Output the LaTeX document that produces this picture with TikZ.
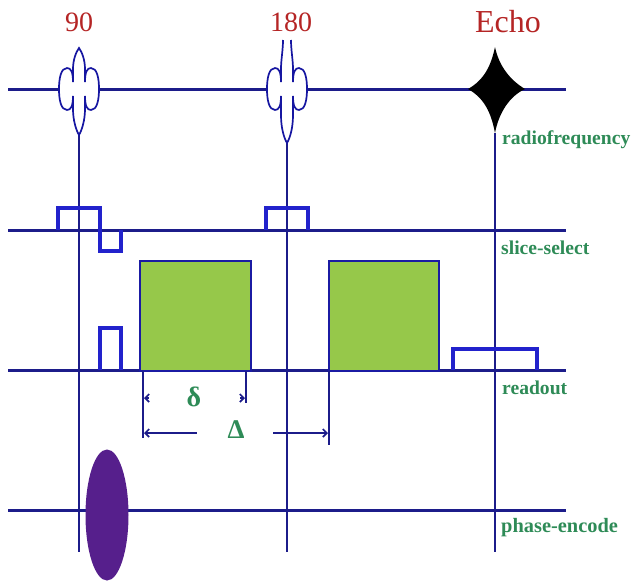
\documentclass[tikz,border=0pt]{standalone}
\usepackage{fontspec}
\setmainfont{Liberation Serif}
\usetikzlibrary{arrows.meta,calc,positioning}
\definecolor{linenavy}{HTML}{1C1C8A}
\definecolor{pulseblue}{HTML}{2222CC}
\definecolor{gradgreen}{HTML}{96C84A}
\definecolor{encpurple}{HTML}{561F8C}
\definecolor{labelgreen}{HTML}{2E8B57}
\definecolor{titlered}{HTML}{B52525}
\tikzset{
    axisline/.style={linenavy, line width=3pt},
    guideline/.style={linenavy, line width=1.7pt},
    lobeline/.style={linenavy!80!blue, line width=1.7pt, fill=white},
    gatebox/.style={pulseblue, line width=3.2pt},
    gradbox/.style={fill=gradgreen, draw=pulseblue!80!black, line width=1.2pt},
    timemark/.style={linenavy, line width=1.7pt},
    timetip/.tip={Straight Barb[length=4pt,width=8pt]},
    titletext/.style={text=titlered},
    axistext/.style={text=labelgreen, font=\fontsize{19.6}{20}\selectfont\bfseries, anchor=west, inner sep=0pt},
}
\begin{document}
\begin{tikzpicture}[x=1pt, y=-1pt]
    \useasboundingbox (0,0) rectangle (633,582);

    % Time axes
    \foreach \y/\xend in {89/566, 230/566, 370/566, 510/566}
        \draw[axisline] (8,\y) -- (\xend,\y);

    % Guide lines
    \draw[guideline] (79,135) -- (79,552);
    \draw[guideline] (287,143) -- (287,552);
    \draw[guideline] (495,133) -- (495,552);

    % RF pulses
    \draw[lobeline] (79,48) .. controls (76,52) and (73,60) .. (73,69) -- (73,82)
        .. controls (73,72) and (71,68) .. (67,68) .. controls (61,68) and (59,78) .. (59,89)
        .. controls (59,100) and (61,110) .. (67,110) .. controls (71,110) and (73,106) .. (73,96)
        -- (73,109) .. controls (73,120) and (76,130) .. (79,135)
        .. controls (82,130) and (85,120) .. (85,109) -- (85,96)
        .. controls (85,106) and (87,110) .. (91,110) .. controls (97,110) and (99,100) .. (99,89)
        .. controls (99,78) and (97,68) .. (91,68) .. controls (87,68) and (85,72) .. (85,82)
        -- (85,69) .. controls (85,60) and (82,52) .. (79,48) -- cycle;
    \fill[white] (283,40) -- (291,40) -- (293,82) -- (293,96) -- (281,96) -- (281,82) -- cycle;
    \draw[lobeline] (283,40) .. controls (283,50) and (281,60) .. (281,69) -- (281,82)
        .. controls (281,72) and (279,68) .. (275,68) .. controls (269,68) and (267,78) .. (267,89)
        .. controls (267,100) and (269,110) .. (275,110) .. controls (279,110) and (281,106) .. (281,96)
        -- (281,115) .. controls (281,128) and (284,138) .. (287,143)
        .. controls (290,138) and (293,128) .. (293,115) -- (293,96)
        .. controls (293,106) and (295,110) .. (299,110) .. controls (305,110) and (307,100) .. (307,89)
        .. controls (307,78) and (305,68) .. (299,68) .. controls (295,68) and (293,72) .. (293,82)
        -- (293,69) .. controls (293,60) and (291,50) .. (291,40);

    % Echo
    \fill[black] (495,47) .. controls (499,66) and (510,80) .. (525,89)
        .. controls (510,96) and (499,112) .. (495,133)
        .. controls (491,112) and (484,98) .. (468,89)
        .. controls (484,80) and (491,66) .. cycle;

    % Slice-select gates
    \draw[gatebox] (58,230) |- (100,208) |- (121,251) -- (121,230);
    \draw[gatebox] (266,230) |- (308,208) -- (308,230);

    % Readout gates
    \draw[gatebox] (100,370) |- (121,328) -- (121,370);
    \draw[gatebox] (453,370) |- (537,349) -- (537,370);
    \draw[gradbox] (140,261) rectangle (251,371);
    \draw[gradbox] (329,261) rectangle (439,371);

    % Phase-encode lobe
    \fill[encpurple] (107,515) ellipse [x radius=21.5, y radius=65.5];

    % Delta timing marks
    \draw[guideline] (143,371) -- (143,438);
    \draw[guideline] (246,371) -- (246,403);
    \draw[guideline] (329,371) -- (329,445);
    \draw[timemark, {timetip}-] (144,398) -- (149,398);
    \draw[timemark, -{timetip}] (240,398) -- (245,398);
    \draw[timemark, {timetip}-] (144,433) -- (197,433);
    \draw[timemark, -{timetip}] (273,433) -- (328,433);
    \node[text=labelgreen, font=\fontsize{28}{29}\selectfont\bfseries] (smalldelta) at (194,397) {δ};
    \node[text=labelgreen, font=\fontsize{27}{28}\selectfont\bfseries] (bigdelta) at (236,430) {Δ};

    % Titles
    \node[titletext, font=\fontsize{28}{30}\selectfont] (title90) at (79,22) {90};
    \node[titletext, font=\fontsize{28}{30}\selectfont] (title180) at (291,22) {180};
    \node[titletext, font=\fontsize{32}{34}\selectfont] (titleecho) at (508,22) {Echo};

    % Axis names
    \node[axistext] (rflabel) at (502,140) {radiofrequency};
    \node[axistext] (slicelabel) at (501,248) {slice-select};
    \node[axistext] (readlabel) at (502,388) {readout};
    \node[axistext, font=\fontsize{20.4}{21}\selectfont\bfseries] (phaselabel) at (501,528) {phase-encode};
\end{tikzpicture}
\end{document}
